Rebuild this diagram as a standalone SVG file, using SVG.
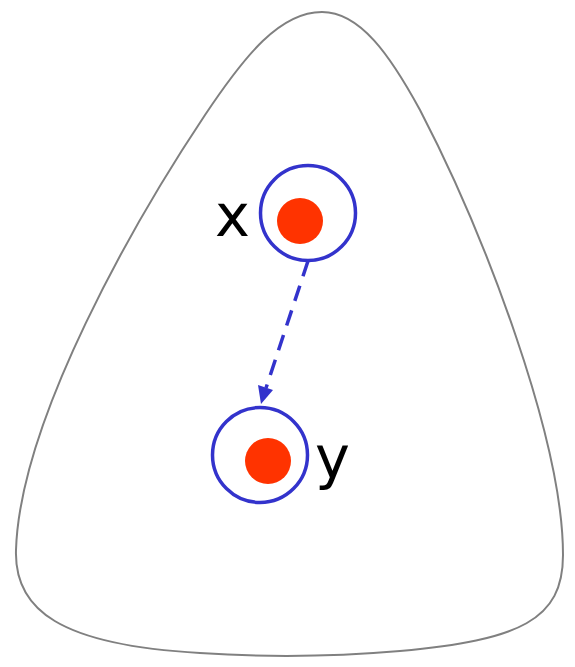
<svg xmlns="http://www.w3.org/2000/svg" width="575" height="667" viewBox="0 0 575 667">
<style>
.region{fill:#fff;stroke:#808080;stroke-width:2}
.ring{fill:#fff;stroke:#3333cc;stroke-width:3.5}
.dot{fill:#ff3300}
.lbl{font-family:"DejaVu Sans",sans-serif;font-size:59px;fill:#000}
.edge{fill:none;stroke:#3333cc;stroke-width:3.5;stroke-dasharray:16,10}
.head{fill:#3333cc}
</style>
<rect width="575" height="667" fill="#fff"/>
<path class="region" d="M322,12 C280,12 245,55 205,115 C135,220 20,420 16,550 C14,610 60,645 200,653 C260,657 330,657 400,651 C520,640 563,620 563,555 C563,440 485,235 420,110 C390,55 360,12 322,12 Z"/>
<g id="node-x">
<circle class="ring" cx="308" cy="213" r="47.5"/>
<circle class="dot" cx="300" cy="221" r="23"/>
<text class="lbl" x="215" y="236">x</text>
</g>
<g id="node-y">
<circle class="ring" cx="260" cy="455" r="47.5"/>
<circle class="dot" cx="268" cy="461" r="23"/>
<text class="lbl" x="315" y="478">y</text>
</g>
<g id="connectors">
<path class="edge" d="M308,261 L266,388"/>
<path class="head" d="M258,385 L273,390 L261,404 Z"/>
</g>
</svg>
